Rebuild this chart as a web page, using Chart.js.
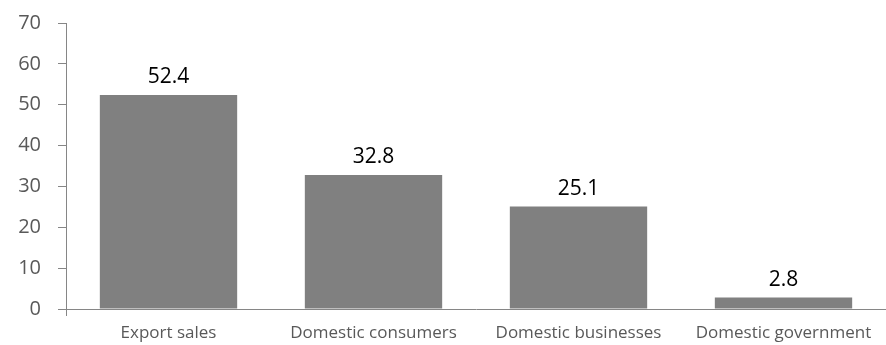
<!DOCTYPE html>
<html lang="en">
<head>
<meta charset="UTF-8">
<title>Sales by destination</title>
<script src="https://cdn.jsdelivr.net/npm/chart.js"></script>
<style>
  html, body { margin: 0; padding: 0; background: #fff; }
  #wrap { width: 886px; height: 345px; }
</style>
</head>
<body>
<div id="wrap"><canvas id="chart" width="886" height="345"></canvas></div>
<script>
const categories = ['Export sales', 'Domestic consumers', 'Domestic businesses', 'Domestic government'];
const values = [52.4, 32.8, 25.1, 2.8];
const yTicks = [0, 10, 20, 30, 40, 50, 60, 70];

const FONT = "'Open Sans', sans-serif";
const AXIS = '#868686';

// draws the number above each bar
const barLabels = {
  id: 'barLabels',
  afterDatasetsDraw(chart) {
    const ctx = chart.ctx;
    const meta = chart.getDatasetMeta(0);
    ctx.save();
    ctx.font = '21px ' + FONT;
    ctx.fillStyle = '#000';
    ctx.textAlign = 'center';
    ctx.textBaseline = 'bottom';
    meta.data.forEach((bar, i) => {
      ctx.fillText(values[i].toFixed(1), bar.x, bar.y - 7);
    });
    ctx.restore();
  }
};

new Chart(document.getElementById('chart'), {
  type: 'bar',
  data: {
    labels: categories,
    datasets: [{
      data: values,
      backgroundColor: '#808080',
      borderWidth: 0,
      categoryPercentage: 1,
      barPercentage: 0.67
    }]
  },
  options: {
    responsive: false,
    animation: false,
    layout: { padding: { top: 23, right: 0, left: 0, bottom: 0 } },
    plugins: { legend: { display: false }, tooltip: { enabled: false } },
    scales: {
      y: {
        min: 0, max: 70,
        afterFit(s) { s.width = 66; s.paddingTop = 0; s.paddingBottom = 0; },
        afterBuildTicks(s) { s.ticks = yTicks.map(v => ({ value: v })); },
        border: { color: AXIS, width: 1 },
        grid: { drawOnChartArea: false, color: AXIS, tickLength: 8 },
        ticks: { color: '#595959', font: { family: FONT, size: 20 }, padding: 17 }
      },
      x: {
        afterFit(s) { s.height = 36; s.paddingTop = 0; },
        border: { color: AXIS, width: 1 },
        grid: {
          offset: true,
          drawOnChartArea: false,
          tickLength: 7,
          color: c => c.index === 0 ? AXIS : 'rgba(0,0,0,0)'
        },
        ticks: { color: '#595959', font: { family: FONT, size: 17 }, padding: 7, maxRotation: 0 }
      }
    }
  },
  plugins: [barLabels]
});
</script>
</body>
</html>
